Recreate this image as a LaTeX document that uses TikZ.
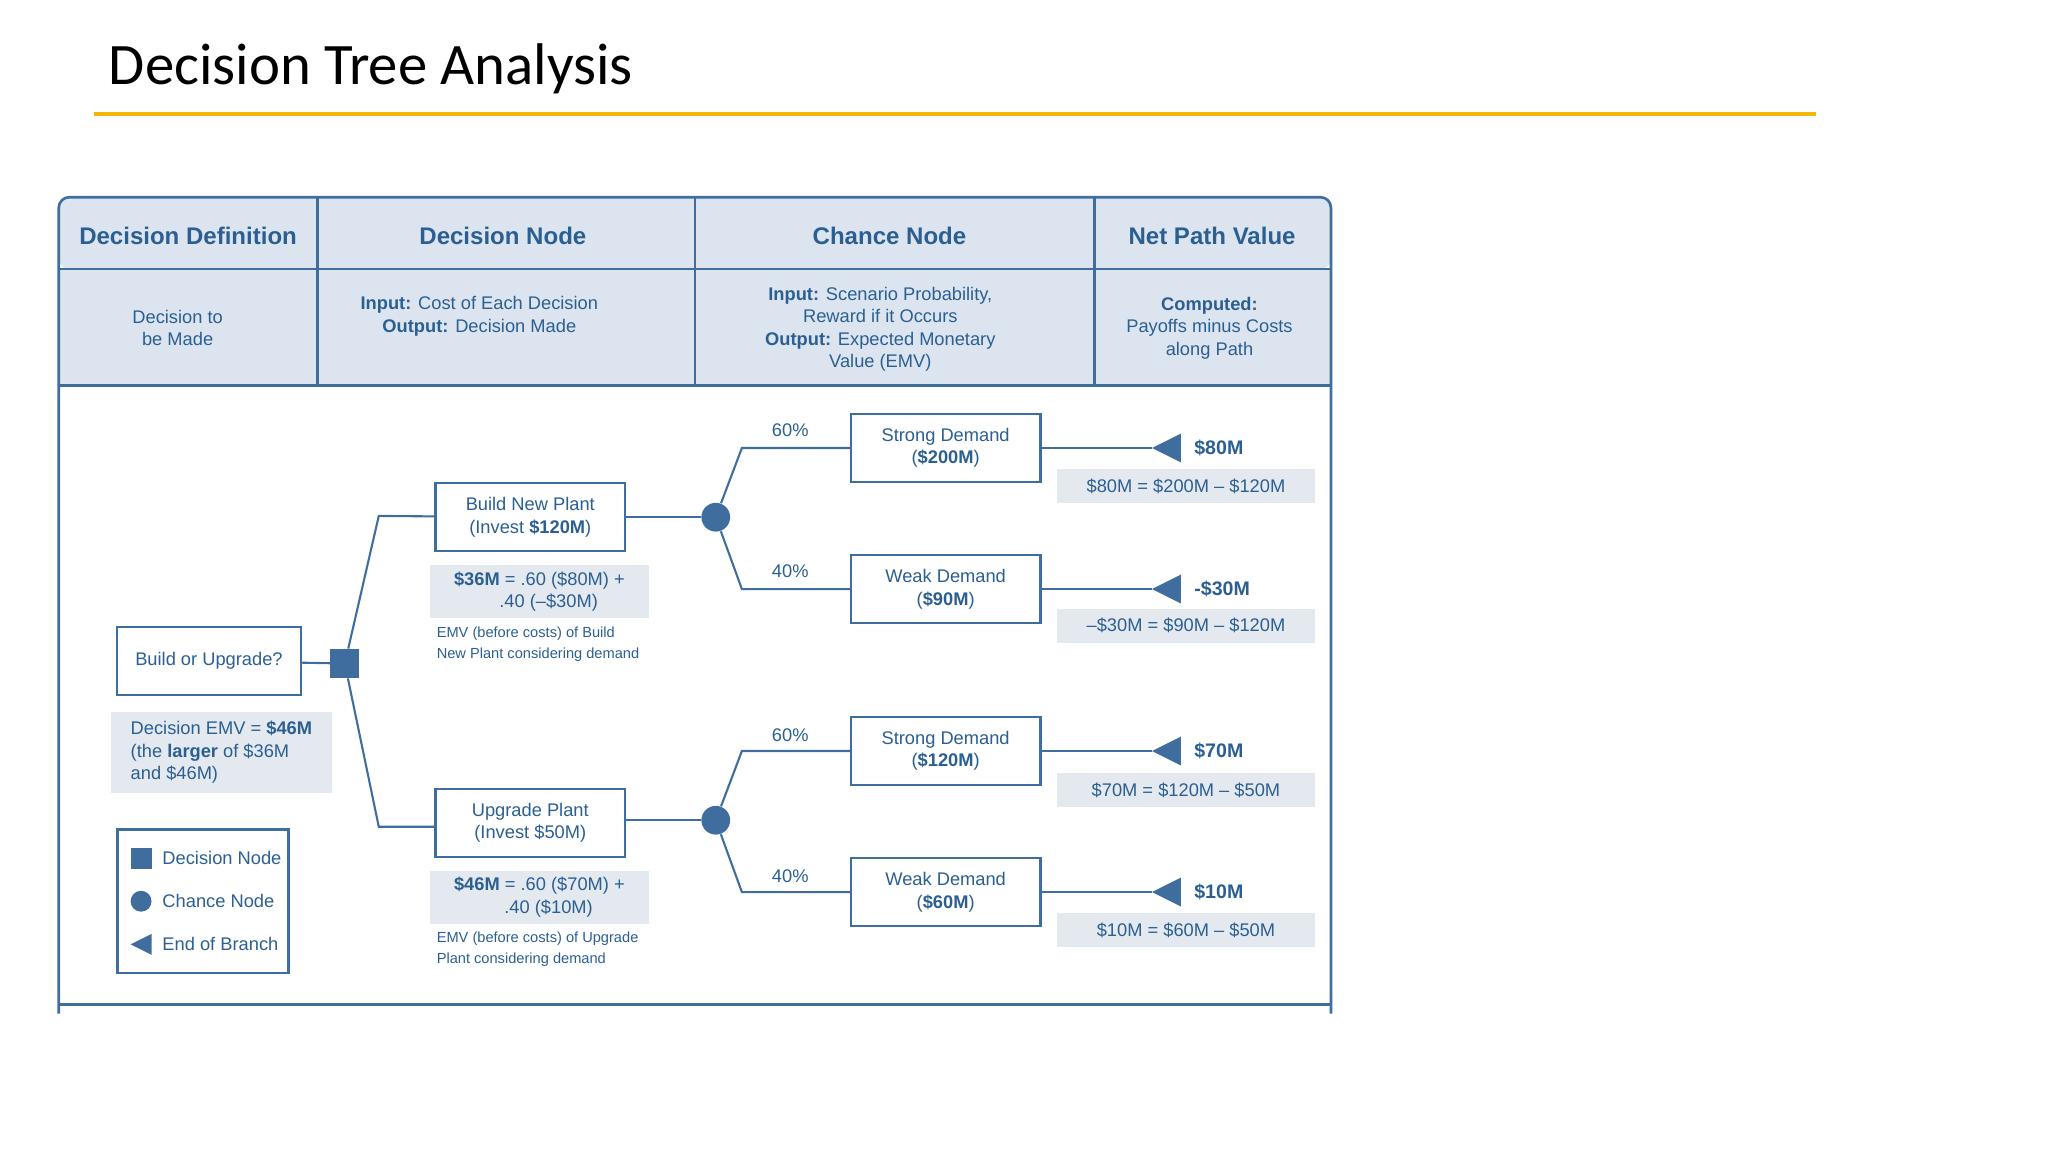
\documentclass[tikz,border=0pt]{standalone}
\usepackage{fontspec}
\setmainfont{Liberation Sans}
\newfontfamily\titlefont{Carlito}
\definecolor{dblue}{HTML}{2B5F92}
\definecolor{lblue}{HTML}{3F6E9E}
\definecolor{hbg}{HTML}{DCE5EF}
\definecolor{sbg}{HTML}{E4E9F0}
\definecolor{gold}{HTML}{F2B705}
\begin{document}
\begin{tikzpicture}[x=0.5pt,y=-0.5pt,
  txt/.style={text=dblue,font=\fontsize{7}{8.6}\selectfont,inner sep=0pt,align=center},
  hdr/.style={text=dblue,font=\bfseries\fontsize{9.2}{10}\selectfont,inner sep=0pt},
  box/.style={draw=lblue,line width=0.9pt,fill=white,minimum width=72.5pt,minimum height=26pt,txt},
  shade/.style={fill=sbg,draw=none,txt},
  small/.style={text=dblue,font=\fontsize{5.6}{8}\selectfont,inner sep=0pt,align=left,anchor=west},
  ln/.style={draw=lblue,line width=0.8pt},
  dec/.style={fill=lblue,minimum size=11pt,inner sep=0pt},
  chn/.style={fill=lblue,circle,minimum size=11pt,inner sep=0pt},
  tri/.style={fill=lblue}]
\useasboundingbox (0,0) rectangle (1568,882);
\node[anchor=west,font=\titlefont\fontsize{22.5}{26}\selectfont,inner sep=0pt] (title) at (83,53) {Decision Tree Analysis};
\draw[gold,line width=1.5pt] (72,87) -- (1390,87);
% table
\fill[hbg] (45,206) rectangle (1019,295);
\fill[hbg,rounded corners=4pt] (45,151) rectangle (1019,206);
\draw[lblue,line width=1pt,rounded corners=4pt] (45,776) -- (45,151) -- (1019,151) -- (1019,776);
\draw[lblue,line width=1pt] (45,206) -- (1019,206) (45,295) -- (1019,295) (45,769) -- (1019,769);
\foreach \x in {243,532,838} \draw[lblue,line width=1pt] (\x,151) -- (\x,295);
\node[hdr] (h1) at (144,181) {Decision Definition};
\node[hdr] (h2) at (385,181) {Decision Node};
\node[hdr] (h3) at (681,181) {Chance Node};
\node[hdr] (h4) at (928,181) {Net Path Value};
\node[txt] (r1) at (136,251) {Decision to\\be Made};
\node[txt] (r2) at (367,242) {\textbf{Input:} Cost of Each Decision\\\textbf{Output:} Decision Made};
\node[txt] (r3) at (674,252) {\textbf{Input:} Scenario Probability,\\Reward if it Occurs\\\textbf{Output:} Expected Monetary\\Value (EMV)};
\node[txt] (r4) at (926,251) {\textbf{Computed:}\\Payoffs minus Costs\\along Path};
% tree
\node[box,minimum width=70.5pt] (bu) at (160,506) {Build or Upgrade?};
\node[dec] (d) at (264,508) {};
\node[box] (bp) at (406,396) {Build New Plant\\(Invest \textbf{\$120M})};
\node[box] (up) at (406,630) {Upgrade Plant\\(Invest \$50M)};
\node[chn] (c1) at (548,396) {};
\node[chn] (c2) at (548,628) {};
\node[box] (s1) at (724,343) {Strong Demand\\(\textbf{\$200M})};
\node[box] (w1) at (724,451) {Weak Demand\\(\textbf{\$90M})};
\node[box] (s2) at (724,575) {Strong Demand\\(\textbf{\$120M})};
\node[box] (w2) at (724,683) {Weak Demand\\(\textbf{\$60M})};
\draw[ln] (bu) -- (d);
\draw[ln] (d) -- (290,395) -- (bp);
\draw[ln] (d) -- (290,633) -- (up.west|-290,633);
\draw[ln] (bp) -- (c1); \draw[ln] (up.east|-c2) -- (c2);
\draw[ln] (c1) -- (568,343) -- (s1);
\draw[ln] (c1) -- (568,451) -- (w1);
\draw[ln] (c2) -- (568,575) -- (s2);
\draw[ln] (c2) -- (568,683) -- (w2);
\node[txt] (p1) at (605,329) {60\%};
\node[txt] (p2) at (605,437) {40\%};
\node[txt] (p3) at (605,563) {60\%};
\node[txt] (p4) at (605,671) {40\%};
\foreach \n/\y/\v/\eq/\yy in {a/343/\$80M/{\$80M = \$200M – \$120M}/372,b/451/-\$30M/{–\$30M = \$90M – \$120M}/479,c/575/\$70M/{\$70M = \$120M – \$50M}/605,d/683/\$10M/{\$10M = \$60M – \$50M}/712}{
  \coordinate (t\n) at (882,\y);
  \fill[tri] (882,\y) -- (904,\y-11) -- (904,\y+11) -- cycle;
  \node[txt,font=\bfseries\fontsize{7.5}{9}\selectfont,anchor=west] (v\n) at (914,\y) {\v};
  \node[shade,minimum width=99pt,minimum height=13pt] (e\n) at (908,\yy) {\eq};
}
\draw[ln] (s1.east) -- (ta); \draw[ln] (w1.east) -- (tb);
\draw[ln] (s2.east) -- (tc); \draw[ln] (w2.east) -- (td);
\node[shade,minimum width=84pt,minimum height=20.5pt] (m1) at (413,453) {\textbf{\$36M} = .60 (\$80M) +\\\hspace{1em}.40 (–\$30M)};
\node[small] (n1) at (334,493) {EMV (before costs) of Build\\New Plant considering demand};
\node[shade,minimum width=84pt,minimum height=20.5pt] (m2) at (413,687) {\textbf{\$46M} = .60 (\$70M) +\\\hspace{1em}.40 (\$10M)};
\node[small] (n2) at (334,727) {EMV (before costs) of Upgrade\\Plant considering demand};
\node[shade,minimum width=84.5pt,minimum height=31pt,align=left] (dm) at (169.5,576) {Decision EMV = \textbf{\$46M}\\(the \textbf{larger} of \$36M\\and \$46M)};
% legend
\draw[lblue,line width=0.9pt] (90,635) rectangle (221,745);
\fill[lblue] (100,649) rectangle (116,665);
\fill[lblue] (108,690) circle (8);
\fill[lblue] (100,723) -- (116,715) -- (116,731) -- cycle;
\node[txt,anchor=west] (l1) at (124,657) {Decision Node};
\node[txt,anchor=west] (l2) at (124,690) {Chance Node};
\node[txt,anchor=west] (l3) at (124,723) {End of Branch};
\end{tikzpicture}
\end{document}
